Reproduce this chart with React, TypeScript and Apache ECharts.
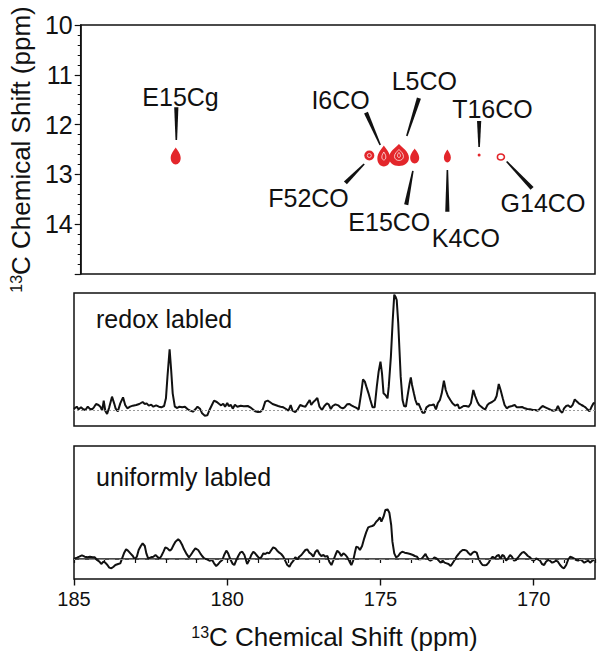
import React, { useEffect, useRef } from 'react';
import * as echarts from 'echarts';

const FONT = 'Helvetica, "Liberation Sans", Arial, sans-serif';
const RED = '#e3262b';
const INK = '#111111';

// ---- axis ticks ----
const xTickLabels = [185, 180, 175, 170];
const yTicks2D = [10, 11, 12, 13, 14];

// ---- 2D spectrum peaks (13C ppm, 13C ppm) ----
const peaks2D = [
  { name: 'E15Cg', x: 181.86, y: 12.63 },
  { name: 'F52CO', x: 175.46, y: 12.62 },
  { name: 'I6CO', x: 174.98, y: 12.63 },
  { name: 'L5CO', x: 174.48, y: 12.61 },
  { name: 'E15CO', x: 173.96, y: 12.63 },
  { name: 'K4CO', x: 172.88, y: 12.63 },
  { name: 'T16CO', x: 171.83, y: 12.61 },
  { name: 'G14CO', x: 171.11, y: 12.65 },
];

// ---- peak assignment labels: text position, leader line (from -> to) ----
const annotations = [
  { name: 'E15Cg', text: [181.70, 11.45], from: [181.84, 11.65], to: [181.84, 12.31] },
  { name: 'I6CO', text: [176.41, 11.51], from: [175.57, 11.76], to: [175.10, 12.41] },
  { name: 'L5CO', text: [173.64, 11.13], from: [173.82, 11.47], to: [174.22, 12.23] },
  { name: 'T16CO', text: [171.39, 11.69], from: [171.83, 11.93], to: [171.83, 12.45] },
  { name: 'F52CO', text: [177.47, 13.47], from: [176.25, 13.17], to: [175.63, 12.79] },
  { name: 'E15CO', text: [174.80, 13.96], from: [174.24, 13.61], to: [174.02, 12.93] },
  { name: 'K4CO', text: [172.27, 14.27], from: [172.88, 13.75], to: [172.88, 12.91] },
  { name: 'G14CO', text: [169.72, 13.58], from: [170.08, 13.28], to: [170.92, 12.74] },
];

// ---- 1D spectra [ppm, intensity (a.u.)] ----
const redoxSpectrum = [
  [185.00, 3], [184.98, 5], [184.91, 10], [184.85, 2], [184.77, 8], [184.71, 3], [184.63, 0], [184.55, 10], [184.49, 4], [184.41, 2],
  [184.35, 8], [184.28, 18], [184.20, 15], [184.14, 10], [184.08, -2], [184.03, 28], [183.98, -2], [183.92, -12], [183.85, 8], [183.76, 40],
  [183.69, 20], [183.64, 4], [183.57, -4], [183.49, 20], [183.40, 38], [183.33, 15], [183.26, 5], [183.17, 10], [183.08, 13], [182.97, 15],
  [182.87, 18], [182.76, 24], [182.69, 18], [182.63, 20], [182.56, 13], [182.48, 16], [182.41, 10], [182.32, 14], [182.23, 10], [182.15, 8],
  [182.06, 12], [182.00, 35], [181.95, 100], [181.88, 182], [181.83, 120], [181.78, 50], [181.71, 10], [181.63, 6], [181.56, 10], [181.47, 8],
  [181.38, 10], [181.30, 3], [181.21, -2], [181.12, -5], [181.04, 2], [180.97, 10], [180.89, 4], [180.82, -10], [180.73, -17], [180.65, -16],
  [180.58, 0], [180.50, 15], [180.43, 28], [180.34, 24], [180.26, 18], [180.20, 14], [180.13, 19], [180.07, 10], [180.00, 21], [179.95, 12],
  [179.88, 15], [179.82, 4], [179.75, 16], [179.67, 10], [179.56, 13], [179.46, 11],
  [179.33, 12], [179.25, 8], [179.17, 2], [179.09, -4], [179.00, -6], [178.91, -5], [178.84, 2], [178.76, 25], [178.68, 28], [178.61, 24],
  [178.52, 18], [178.43, 15], [178.34, 12], [178.26, 10], [178.17, 8], [178.08, 3], [178.00, -2], [177.93, 15], [177.87, -2], [177.78, -6],
  [177.70, 2], [177.62, 15], [177.54, 12], [177.45, 10], [177.38, 20], [177.31, 30], [177.26, 15], [177.19, 24], [177.12, 30], [177.06, 36],
  [176.99, 10], [176.91, 0], [176.83, 12], [176.75, 20], [176.69, 17], [176.62, 3], [176.56, 12], [176.47, 17], [176.38, 14], [176.31, 8],
  [176.23, 5], [176.17, 8], [176.09, 17], [176.01, 18], [175.95, 14], [175.87, 10], [175.80, 7], [175.71, 2], [175.63, 50], [175.57, 92],
  [175.51, 85], [175.46, 70], [175.39, 50], [175.33, 30], [175.26, 8], [175.19, 8], [175.12, 70], [175.06, 115], [175.00, 145], [174.95, 110],
  [174.90, 50], [174.84, 45], [174.77, 35], [174.73, 70], [174.66, 160], [174.60, 270], [174.55, 346], [174.51, 340], [174.47, 330], [174.42, 260],
  [174.38, 180], [174.34, 100], [174.28, 30], [174.23, 12], [174.17, 10], [174.12, 40], [174.05, 80], [174.01, 98], [173.97, 75], [173.91, 50],
  [173.86, 30], [173.80, 15],
  [173.76, 20], [173.69, 5], [173.63, -8], [173.56, -8], [173.50, 8], [173.41, 14], [173.32, 15], [173.26, 17], [173.19, 2], [173.13, 20],
  [173.06, 30], [173.00, 50], [172.93, 88], [172.87, 60], [172.80, 42], [172.72, 30], [172.65, 20], [172.56, 13], [172.48, 17], [172.43, 5],
  [172.36, 8], [172.29, 12], [172.21, 12], [172.12, 10], [172.05, 20], [171.97, 60], [171.91, 42], [171.84, 25], [171.78, 15], [171.71, 10],
  [171.65, 5], [171.58, 2], [171.51, 15], [171.45, 20], [171.36, 24], [171.27, 30], [171.21, 42], [171.14, 78], [171.08, 60], [171.01, 35],
  [170.95, 15], [170.88, 5], [170.80, 10], [170.71, 12], [170.62, 15], [170.55, 8], [170.47, 8], [170.38, 9], [170.29, 5], [170.21, 3],
  [170.12, 2], [170.03, 0], [169.95, 0], [169.86, -2], [169.79, 5], [169.71, 12], [169.62, 8], [169.53, 4], [169.44, 0], [169.36, -2],
  [169.27, 0], [169.21, 12], [169.14, -2], [169.07, -8], [169.01, 5], [168.94, 12], [168.88, 14], [168.80, 8], [168.73, 15], [168.66, 32],
  [168.60, 26], [168.53, 20], [168.44, 15], [168.38, 12], [168.31, 8], [168.25, 2], [168.18, -4], [168.12, 8], [168.05, 20], [168.01, 22],
];

const uniformSpectrum = [
  [185.00, 1], [184.98, 2], [184.90, 4], [184.83, 7], [184.74, 11], [184.65, 7], [184.56, 5], [184.48, 7], [184.39, 5], [184.32, 5],
  [184.25, -3], [184.17, -8], [184.11, -15], [184.04, -8], [183.98, -11], [183.91, -18], [183.85, -26], [183.78, -28], [183.71, -23], [183.65, -18],
  [183.56, -15], [183.49, -13], [183.43, 2], [183.37, 17], [183.30, 29], [183.24, 25], [183.16, 17], [183.08, 9], [183.02, -1], [182.95, 7],
  [182.89, 27], [182.82, 39], [182.76, 47], [182.69, 39], [182.64, 17], [182.58, 2], [182.49, 5], [182.41, 7], [182.34, 12], [182.28, 7],
  [182.21, 1], [182.15, 9], [182.08, 22], [182.02, 35], [181.95, 32], [181.88, 25], [181.82, 29], [181.75, 42], [181.69, 52], [181.60, 59],
  [181.54, 54], [181.47, 42], [181.41, 29], [181.34, 17], [181.25, 5], [181.19, 12], [181.12, 22], [181.04, 32], [180.95, 27], [180.88, 17],
  [180.82, 9], [180.75, 2], [180.66, -1], [180.58, -5], [180.49, -3], [180.43, -13], [180.36, -21], [180.29, -15], [180.23, -8], [180.16, -3],
  [180.10, 12], [180.03, 25], [179.97, 17], [179.90, -1], [179.82, -15], [179.77, -18], [179.71, -5], [179.64, 9], [179.58, 19], [179.51, 22],
  [179.44, 12],
  [179.35, -15], [179.28, -3], [179.22, 11], [179.15, 22], [179.09, 17], [179.02, 9], [178.95, 2], [178.89, 5], [178.82, 17], [178.76, 15],
  [178.69, 19], [178.63, 17], [178.56, 27], [178.50, 35], [178.43, 32], [178.37, 25], [178.30, 19], [178.24, 15], [178.17, 7], [178.11, -5],
  [178.04, -18], [177.97, -23], [177.91, -13], [177.84, -5], [177.78, 5], [177.71, -1], [177.65, 7], [177.58, 12], [177.52, 19], [177.45, 27],
  [177.39, 29], [177.32, 19], [177.26, 15], [177.19, 7], [177.12, 22], [177.06, 27], [176.99, 15], [176.93, 9], [176.86, 12], [176.80, 7],
  [176.73, 9], [176.67, -8], [176.60, -18], [176.54, -5], [176.47, 12], [176.41, 25], [176.34, 19], [176.28, 9], [176.21, 17], [176.14, 12],
  [176.08, 5], [176.01, -8], [175.95, -18], [175.89, -5], [175.84, 17], [175.79, 37], [175.73, 35], [175.67, 27], [175.60, 39], [175.53, 62],
  [175.47, 79], [175.40, 95], [175.34, 97], [175.27, 99], [175.21, 102], [175.14, 112], [175.08, 117], [175.02, 125], [174.97, 112], [174.90, 127],
  [174.84, 147], [174.77, 149], [174.71, 139], [174.65, 102], [174.61, 52], [174.55, 17], [174.49, 5], [174.42, 9], [174.36, 17], [174.29, 22],
  [174.21, 19], [174.12, 17], [174.03, 15], [173.94, 12], [173.88, 9], [173.81, 7], [173.75, -1], [173.68, -1], [173.62, 5], [173.53, 15],
  [173.50, 9], [173.43, -1], [173.37, -5], [173.30, -1], [173.24, 5], [173.17, 2], [173.10, -5], [173.04, -11], [172.97, -5], [172.91, -11],
  [172.84, -13], [172.78, -15], [172.71, -21], [172.65, -13], [172.58, -3], [172.52, 7], [172.45, 15], [172.39, 22], [172.32, 27], [172.26, 27],
  [172.19, 25], [172.12, 17], [172.06, 12], [171.99, 19], [171.93, 22], [171.86, 19], [171.80, 2], [171.73, -11], [171.67, -18], [171.60, -19],
  [171.54, -18], [171.47, -11], [171.41, -1], [171.34, 7], [171.27, 2], [171.21, 9], [171.14, 12], [171.08, -1], [171.03, 12], [170.97, 9],
  [170.90, -5], [170.84, 2], [170.77, 12], [170.71, 7], [170.64, -5], [170.58, -3], [170.51, 5], [170.45, 12], [170.38, 19], [170.32, 21],
  [170.25, 15], [170.19, 9], [170.12, 5], [170.05, -3], [169.99, -5], [169.92, 2], [169.86, -1], [169.79, -5], [169.73, -15], [169.66, -18],
  [169.60, -8], [169.53, -3], [169.47, -5], [169.40, -11], [169.34, -9], [169.27, -5], [169.21, -8], [169.14, -18], [169.07, -25], [169.01, -28],
  [168.94, -18], [168.88, -3], [168.81, 7], [168.75, 5], [168.68, 1], [168.62, -3], [168.55, -5], [168.49, -1], [168.42, -5], [168.35, -11],
  [168.29, -8], [168.22, -5], [168.16, -11], [168.09, -5], [168.03, -3],
];

// ---- styles for contour blobs (pixel sizes) ----
const blobStyles: Record<string, { w: number; h: number; kind: string; inner?: number[][] }> = {
  E15Cg: { w: 10, h: 17, kind: 'drop' },
  F52CO: { w: 10, h: 10, kind: 'oval', inner: [[4, 4]] },
  I6CO: { w: 13, h: 21, kind: 'drop', inner: [[4, 8]] },
  L5CO: { w: 20, h: 22, kind: 'drop', inner: [[9, 11], [3, 5]] },
  E15CO: { w: 9, h: 15, kind: 'drop' },
  K4CO: { w: 7, h: 13, kind: 'drop' },
  T16CO: { w: 3, h: 3, kind: 'oval' },
  G14CO: { w: 7, h: 6, kind: 'ring' },
};

const DROP = 'M5 0 C6.5 3 10 7 10 12.5 C10 17 7.8 20 5 20 C2.2 20 0 17 0 12.5 C0 7 3.5 3 5 0 Z';
const OVAL = 'M0 5 A5 5 0 1 0 10 5 A5 5 0 1 0 0 5 Z';

const X_MIN = 168;
const X_MAX = 185;

const titleRich = {
  sup: { fontSize: 16, fontFamily: FONT, color: INK, verticalAlign: 'top' },
  b: { fontSize: 26, fontFamily: FONT, color: INK },
};
const AXIS_TITLE = '{sup|13}{b|C Chemical Shift (ppm)}';

export default function App() {
  const ref = useRef<HTMLDivElement>(null);

  useEffect(() => {
    if (!ref.current) return;
    const chart = echarts.init(ref.current, undefined, { renderer: 'svg' });

    const hiddenX = (gridIndex: number) => ({
      type: 'value', gridIndex, min: X_MIN, max: X_MAX, inverse: true, show: false,
    });

    const option: any = {
      animation: false,
      backgroundColor: '#ffffff',
      grid: [
        { left: 74, right: 7, top: 25, height: 249, show: true, borderColor: INK, borderWidth: 1.5, backgroundColor: 'transparent' },
        { left: 74, right: 7, top: 293, height: 133, show: true, borderColor: INK, borderWidth: 1.5, backgroundColor: 'transparent' },
        { left: 74, right: 7, top: 446, height: 133, show: true, borderColor: INK, borderWidth: 1.5, backgroundColor: 'transparent' },
      ],
      xAxis: [
        hiddenX(0),
        hiddenX(1),
        {
          type: 'value', gridIndex: 2, min: X_MIN, max: X_MAX, inverse: true, interval: 1, position: 'bottom',
          axisLine: { show: true, lineStyle: { color: INK, width: 1.5 } },
          axisTick: { show: true, length: 4, lineStyle: { color: INK, width: 1.2 } },
          axisLabel: {
            formatter: (v: number) => (xTickLabels.includes(Math.round(v)) ? String(Math.round(v)) : ''),
            fontSize: 20, fontFamily: FONT, color: INK, margin: 10,
          },
          splitLine: { show: false },
          name: AXIS_TITLE, nameLocation: 'middle', nameGap: 45,
          nameTextStyle: { fontSize: 26, fontFamily: FONT, color: INK, rich: titleRich },
        },
        {
          type: 'value', gridIndex: 2, min: X_MIN, max: X_MAX, inverse: true, interval: 1, position: 'bottom',
          axisLine: { show: false },
          axisTick: { show: true, length: 6.5, customValues: xTickLabels, lineStyle: { color: INK, width: 1.4 } },
          axisLabel: { show: false },
          splitLine: { show: false },
        },
      ],
      yAxis: [
        {
          type: 'value', gridIndex: 0, min: 10, max: 15, interval: 1, inverse: true,
          axisLine: { show: true, lineStyle: { color: INK, width: 1.5 } },
          axisTick: { show: true, length: 6, lineStyle: { color: INK, width: 1.2 } },
          minorTick: { show: true, splitNumber: 5, length: 3, lineStyle: { color: INK, width: 1 } },
          axisLabel: {
            formatter: (v: number) => (yTicks2D.includes(v) ? String(v) : ''),
            fontSize: 25, fontFamily: FONT, color: INK, margin: 8,
          },
          splitLine: { show: false },
          minorSplitLine: { show: false },
          name: AXIS_TITLE, nameLocation: 'middle', nameGap: 40,
          nameTextStyle: { fontSize: 26, fontFamily: FONT, color: INK, rich: titleRich },
        },
        { type: 'value', gridIndex: 1, min: -48, max: 351, show: false },
        { type: 'value', gridIndex: 2, min: -60, max: 339, show: false },
      ],
      graphic: [
        {
          type: 'text', x: 96, y: 318.5,
          style: { text: 'redox labled', fontSize: 25, fontFamily: FONT, fill: INK, align: 'left', verticalAlign: 'middle', textVerticalAlign: 'middle' },
        },
        {
          type: 'text', x: 96, y: 476.5,
          style: { text: 'uniformly labled', fontSize: 25, fontFamily: FONT, fill: INK, align: 'left', verticalAlign: 'middle', textVerticalAlign: 'middle' },
        },
      ],
      series: [
        {
          type: 'custom', name: 'peaks', xAxisIndex: 0, yAxisIndex: 0,
          data: peaks2D.map((p) => [p.x, p.y]),
          renderItem: (params: any, api: any) => {
            const p = peaks2D[params.dataIndex];
            const s = blobStyles[p.name];
            const c = api.coord([api.value(0), api.value(1)]);
            const pathD = s.kind === 'drop' ? DROP : OVAL;
            const mk = (w: number, h: number, style: any) => ({
              type: 'path',
              shape: { pathData: pathD, x: c[0] - w / 2, y: c[1] - h / 2, width: w, height: h, layout: 'cover' },
              style,
            });
            const children: any[] = [];
            if (s.kind === 'ring') children.push(mk(s.w, s.h, { fill: 'none', stroke: RED, lineWidth: 1.6 }));
            else children.push(mk(s.w, s.h, { fill: RED }));
            (s.inner || []).forEach(([w, h]) => children.push(mk(w, h, { fill: 'none', stroke: '#ffffff', lineWidth: 0.7 })));
            return { type: 'group', children };
          },
          z: 3,
        },
        {
          type: 'custom', name: 'assignments', xAxisIndex: 0, yAxisIndex: 0,
          data: annotations.map((a) => [a.text[0], a.text[1], a.from[0], a.from[1], a.to[0], a.to[1]]),
          renderItem: (params: any, api: any) => {
            const a = annotations[params.dataIndex];
            const t = api.coord([api.value(0), api.value(1)]);
            const p1 = api.coord([api.value(2), api.value(3)]);
            const p2 = api.coord([api.value(4), api.value(5)]);
            const dx = p2[0] - p1[0];
            const dy = p2[1] - p1[1];
            const len = Math.hypot(dx, dy) || 1;
            const nx = -dy / len;
            const ny = dx / len;
            const w1 = 2.1;
            const w2 = 0.8;
            const points = [
              [p1[0] + nx * w1, p1[1] + ny * w1],
              [p2[0] + nx * w2, p2[1] + ny * w2],
              [p2[0] - nx * w2, p2[1] - ny * w2],
              [p1[0] - nx * w1, p1[1] - ny * w1],
            ];
            return {
              type: 'group',
              children: [
                { type: 'polygon', shape: { points }, style: { fill: INK } },
                {
                  type: 'text', x: t[0], y: t[1],
                  style: { text: a.name, fill: INK, fontSize: 25, fontFamily: FONT, align: 'center', verticalAlign: 'middle' },
                },
              ],
            };
          },
          z: 4,
        },
        {
          type: 'line', name: 'redox labled', xAxisIndex: 1, yAxisIndex: 1,
          data: redoxSpectrum, showSymbol: false, symbol: 'none',
          lineStyle: { color: INK, width: 2 },
          markLine: {
            silent: true, symbol: 'none', label: { show: false },
            lineStyle: { color: '#9a9a9a', width: 1, type: [2, 2] },
            data: [{ yAxis: 0 }],
          },
          z: 2,
        },
        {
          type: 'line', name: 'uniformly labled', xAxisIndex: 2, yAxisIndex: 2,
          data: uniformSpectrum, showSymbol: false, symbol: 'none',
          lineStyle: { color: INK, width: 2 },
          markLine: {
            silent: true, symbol: 'none', label: { show: false },
            lineStyle: { color: '#8a8a8a', width: 1, type: [6, 4] },
            data: [{ yAxis: 0 }],
          },
          z: 2,
        },
      ],
    };

    chart.setOption(option);
    return () => chart.dispose();
  }, []);

  return (
    <div
      ref={ref}
      style={{ position: 'absolute', left: 0, top: 0, width: 602, height: 663, background: '#fff' }}
    />
  );
}
